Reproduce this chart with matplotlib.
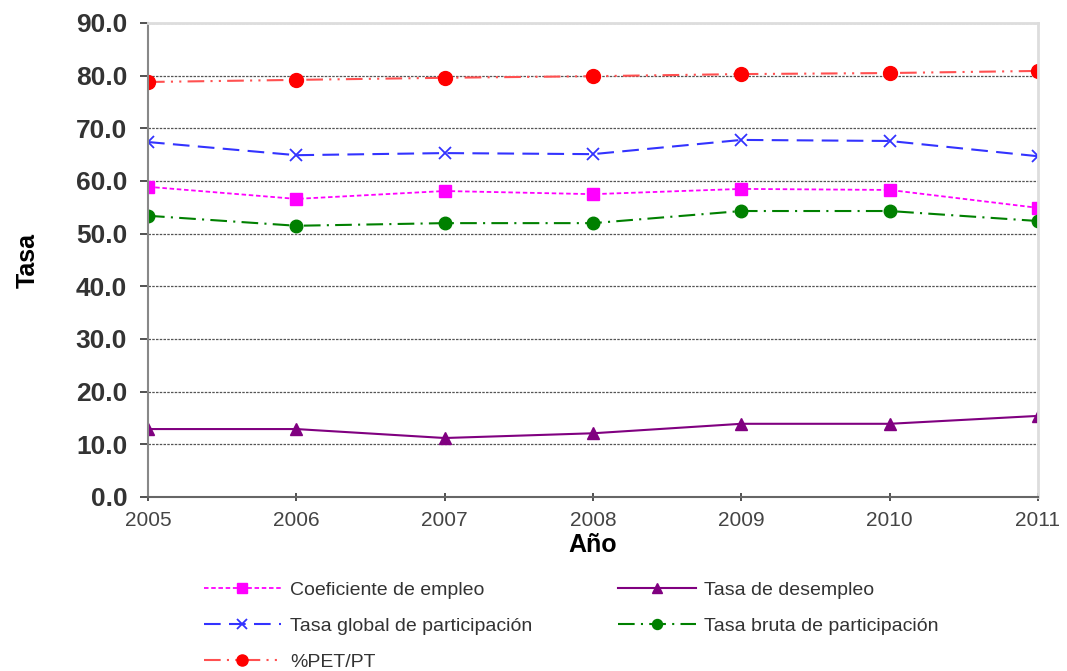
import matplotlib
matplotlib.use("Agg")
import matplotlib.pyplot as plt
from matplotlib.ticker import FormatStrFormatter

plt.rcParams['font.family'] = ['Liberation Sans', 'DejaVu Sans']

years = [2005, 2006, 2007, 2008, 2009, 2010, 2011]
coef_empleo = [58.9, 56.6, 58.1, 57.5, 58.5, 58.3, 54.9]
tasa_desempleo = [12.9, 12.9, 11.2, 12.1, 13.9, 13.9, 15.4]
tasa_global = [67.4, 64.9, 65.3, 65.1, 67.8, 67.6, 64.7]
tasa_bruta = [53.4, 51.5, 52.0, 52.0, 54.3, 54.3, 52.4]
pet_pt = [78.8, 79.2, 79.6, 79.9, 80.3, 80.5, 80.9]
yticks = [0, 10, 20, 30, 40, 50, 60, 70, 80, 90]

fig = plt.figure(figsize=(10.67, 6.71), dpi=100)
ax = fig.add_axes([148/1067, 1-497/671, (1038-148)/1067, (497-23)/671])

ax.plot(years, coef_empleo, color='#FF00FF', ls=(0, (2.5, 1.5)), lw=1.3,
        marker='s', ms=9, label='Coeficiente de empleo')
ax.plot(years, tasa_desempleo, color='#800080', ls='-', lw=1.5,
        marker='^', ms=9, label='Tasa de desempleo')
ax.plot(years, tasa_global, color='#3333FF', ls=(0, (8, 4)), lw=1.5,
        marker='x', ms=9, mew=1.3, label='Tasa global de participación')
ax.plot(years, tasa_bruta, color='#008000', ls=(0, (8, 3, 1, 3)), lw=1.5,
        marker='o', ms=9, label='Tasa bruta de participación')
ax.plot(years, pet_pt, color='#FF5050', ls=(0, (8, 3, 1, 3, 1, 3)), lw=1.5,
        marker='o', ms=10, mfc='#FF0000', mec='#FF0000', label='%PET/PT')

ax.set_xlim(2005, 2011)
ax.set_ylim(0, 90)
ax.set_xticks(years)
ax.set_yticks(yticks)
ax.yaxis.set_major_formatter(FormatStrFormatter('%.1f'))
ax.grid(axis='y', color='#555555', ls=(0, (2, 1)), lw=0.9)
ax.set_axisbelow(True)

for s in ['top', 'right']:
    ax.spines[s].set_color('#DDDDDD')
    ax.spines[s].set_linewidth(2)
ax.spines['left'].set_color('#888888')
ax.spines['left'].set_linewidth(1.5)
ax.spines['bottom'].set_color('#666666')
ax.spines['bottom'].set_linewidth(1.5)

ax.tick_params(axis='y', labelsize=19, colors='#333333', length=6, width=1.2, pad=9)
ax.tick_params(axis='x', labelsize=15, colors='#333333', labelcolor='#444444', length=6, width=1.2, direction='inout', pad=7)
for lab in ax.get_yticklabels():
    lab.set_fontweight('bold')

ax.set_xlabel('Año', fontsize=18, fontweight='bold', labelpad=2)
ax.set_ylabel('Tasa', fontsize=18, fontweight='bold', labelpad=26)

handles, labels = ax.get_legend_handles_labels()
order = [0, 2, 4, 1, 3]
leg = fig.legend([handles[i] for i in order], [labels[i] for i in order],
                 loc='upper left', bbox_to_anchor=(186/1067, 1-564/671),
                 ncol=2, frameon=False, fontsize=14, handlelength=4.0,
                 columnspacing=4.4, labelspacing=0.95, markerscale=0.8,
                 handletextpad=0.45)
for t in leg.get_texts():
    t.set_color('#333333')

fig.savefig('out.png', dpi=100)
